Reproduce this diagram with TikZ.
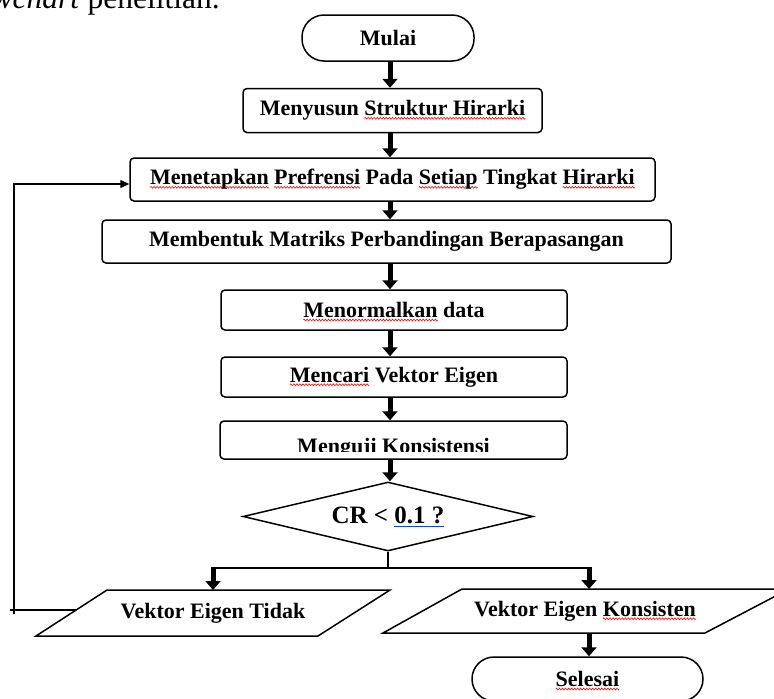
\documentclass[tikz,border=0pt]{standalone}
\usepackage{fontspec}
\setmainfont{Liberation Serif}
\usetikzlibrary{arrows.meta,shapes.geometric}
\newsavebox\wavebox
\newsavebox\rwtmp
\AtBeginDocument{\sbox\wavebox{\begin{pgfpicture}%
  \pgfpathrectangle{\pgfpoint{0pt}{-1pt}}{\pgfpoint{3pt}{2pt}}\pgfusepath{use as bounding box}%
  \pgfsetlinewidth{0.6pt}\color{red}%
  \pgfpathmoveto{\pgfpointorigin}%
  \pgfpathsine{\pgfpoint{0.75pt}{0.9pt}}\pgfpathcosine{\pgfpoint{0.75pt}{-0.9pt}}%
  \pgfpathsine{\pgfpoint{0.75pt}{-0.9pt}}\pgfpathcosine{\pgfpoint{0.75pt}{0.9pt}}%
  \pgfusepath{stroke}\end{pgfpicture}}}
\newcommand\rwave[1]{\sbox\rwtmp{#1}\rlap{\raisebox{-3.5pt}[0pt][0pt]{\hbox to\wd\rwtmp{\xleaders\copy\wavebox\hfil}}}\usebox\rwtmp}
\newcommand\bline[1]{\sbox\rwtmp{#1}\rlap{\textcolor{blue!75!cyan}{\rule[-3.5pt]{\wd\rwtmp}{0.8pt}}}\usebox\rwtmp}
\tikzset{
  box/.style={draw, line width=1.5pt, rounded corners=4pt, inner sep=0pt,
    font=\bfseries\fontsize{22}{26}\selectfont},
  term/.style={draw, line width=1.5pt, rounded corners=22pt, inner sep=0pt,
    font=\bfseries\fontsize{22}{26}\selectfont},
  lbl/.style={inner sep=0pt, font=\bfseries\fontsize{22}{26}\selectfont},
  flow/.style={line width=5pt, -{Triangle[width=15pt,length=9pt]}},
  thinline/.style={line width=1.5pt},
  back/.style={line width=1.5pt, -{Triangle[width=8pt,length=9pt]}}
}
\begin{document}
\begin{tikzpicture}[x=1pt,y=-1pt]
\clip (0,0) rectangle (774,699);
\path[use as bounding box] (0,0) rectangle (774,699);

% cut-off body text at the top
\node[anchor=base east, inner sep=0pt, font=\fontsize{31.5}{36}\selectfont] (body) at (220,8) {\textit{flowchart} penelitian.};

\coordinate (col) at (390,0);

\node[term, minimum width=172pt, minimum height=46pt] (start) at (388,38) {Mulai};
\node[box, minimum width=299pt, minimum height=44pt] (b2) at (392.5,110.5) {Menyusun \rwave{Struktur Hirarki}};
\node[box, minimum width=525pt, minimum height=43pt] (b3) at (392.5,179.5) {\rwave{Menetapkan} \rwave{Prefrensi} Pada \rwave{Setiap} Tingkat \rwave{Hirarki}};
\node[box, minimum width=569pt, minimum height=43pt] (b4) at (386.5,241.5) {Membentuk Matriks Perbandingan Berapasangan};
\node[box, minimum width=346pt, minimum height=40pt] (b5) at (394,310) {\rwave{Menormalkan} data};
\node[box, minimum width=346pt, minimum height=40pt] (b6) at (394,377) {\rwave{Mencari} Vektor Eigen};
\node[box, minimum width=347pt, minimum height=38pt] (b7) at (393.5,440) {};
\begin{scope}
  \clip (221,422) rectangle (566,451);
  \node[lbl, anchor=base] (t7) at (393.5,453) {Menguji Konsistensi};
\end{scope}

\node[diamond, draw, line width=1.5pt, inner sep=0pt, aspect=4.2, minimum width=290pt, minimum height=69pt,
  font=\bfseries\fontsize{25}{29}\selectfont] (dec) at (388,516.5) {CR < \bline{0.1 ?}};

% parallelograms
\coordinate (pL1) at (107,590); \coordinate (pL2) at (390,590);
\coordinate (pL3) at (318,636); \coordinate (pL4) at (36,636);
\draw[line width=1.5pt] (pL1) -- (pL2) -- (pL3) -- (pL4) -- cycle;
\node[lbl] (tL) at (213,613) {Vektor Eigen Tidak};

\coordinate (pR1) at (462,589); \coordinate (pR2) at (789,589);
\coordinate (pR3) at (705,633); \coordinate (pR4) at (383,633);
\draw[line width=1.5pt] (pR1) -- (pR2) -- (pR3) -- (pR4) -- cycle;
\node[lbl] (tR) at (585,611) {Vektor Eigen \rwave{Konsisten}};

\node[term, minimum width=231pt, minimum height=44pt] (end) at (587.5,679) {\rwave{Selesai}};

% main arrows
\draw[flow] (start.south -| col) -- (b2.north -| col);
\draw[flow] (b2.south -| col) -- (b3.north -| col);
\draw[flow] (b3.south -| col) -- (b4.north -| col);
\draw[flow] (b4.south -| col) -- (b5.north -| col);
\draw[flow] (b5.south -| col) -- (b6.north -| col);
\draw[flow] (b6.south -| col) -- (b7.north -| col);
\draw[flow] (b7.south -| col) -- (dec.north -| col);

% branch
\coordinate (brL) at (213,568);
\coordinate (brR) at (589,568);
\draw[thinline] (dec.south) -- (dec.south |- brL);
\draw[thinline] (brL) -- (brR);
\draw[flow] ([yshift=0.75pt]brL) -- (brL |- pL1);
\draw[flow] ([yshift=0.75pt]brR) -- (brR |- pR1);
\coordinate (pRb) at (589,633);
\draw[flow] (pRb) -- (end.north -| pRb);

% feedback loop
\coordinate (fbE) at (76,610);
\coordinate (fbW) at (10,610);
\coordinate (fbB) at (14,614);
\coordinate (fbT) at (14,184);
\draw[thinline] (fbE) -- (fbW);
\draw[back] (fbB) -- (fbT) -- (fbT -| b3.west);
\end{tikzpicture}
\end{document}
